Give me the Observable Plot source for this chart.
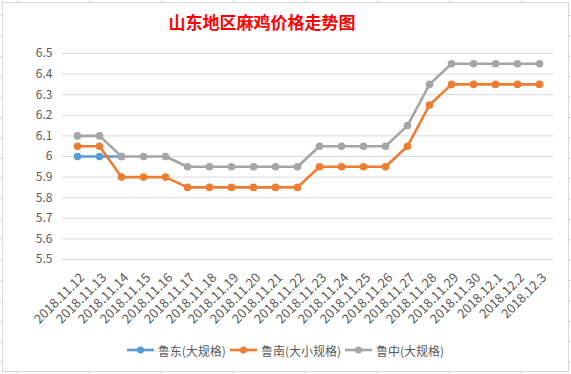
<!DOCTYPE html>
<html>
<head>
<meta charset="utf-8">
<script src="https://cdn.jsdelivr.net/npm/d3@7"></script>
<script src="https://cdn.jsdelivr.net/npm/@observablehq/plot@0.6"></script>
<style>
  html, body { margin: 0; padding: 0; }
  body {
    width: 571px; height: 374px; position: relative; overflow: hidden;
    background-color: #fff;
    background-image:
      linear-gradient(to right, #d4d4d4 1px, transparent 1px),
      linear-gradient(to bottom, #d4d4d4 1px, transparent 1px);
    background-size: 72px 100%, 100% 20.4px;
    background-position: 17px 0, 0 15px;
    font-family: "Noto Sans CJK SC", "Noto Sans", sans-serif;
  }
  #box {
    position: absolute; left: 2px; top: 2px; width: 567px; height: 370px;
    box-sizing: border-box; border: 1px solid #d9d9d9; background: #fff;
  }
  #title {
    height: 37px; line-height: 37px; text-align: center; padding-right: 47px;
    color: #ff0000; font-size: 17px; font-weight: bold;
    font-family: "Noto Sans CJK SC", sans-serif;
  }
  #chart svg { display: block; }
  #legend {
    height: 24px; display: flex; justify-content: center; align-items: center;
    font-size: 12px; color: #595959; gap: 4px;
  }
  .item { display: flex; align-items: center; gap: 4px; }
</style>
</head>
<body>
<div id="box">
  <div id="title">山东地区麻鸡价格走势图</div>
  <div id="chart"></div>
  <div id="legend"></div>
</div>
<script>
const dates = ["2018.11.12","2018.11.13","2018.11.14","2018.11.15","2018.11.16","2018.11.17","2018.11.18","2018.11.19","2018.11.20","2018.11.21","2018.11.22","2018.11.23","2018.11.24","2018.11.25","2018.11.26","2018.11.27","2018.11.28","2018.11.29","2018.11.30","2018.12.1","2018.12.2","2018.12.3"];
const seriesNames = ["鲁东(大规格)", "鲁南(大小规格)", "鲁中(大规格)"];
const seriesColors = ["#5B9BD5", "#ED7D31", "#A5A5A5"];
const ludong = [6.0, 6.0, 6.0, null, null, null, null, null, null, null, null, null, null, null, null, null, null, null, null, null, null, null];
const lunan = [6.05, 6.05, 5.9, 5.9, 5.9, 5.85, 5.85, 5.85, 5.85, 5.85, 5.85, 5.95, 5.95, 5.95, 5.95, 6.05, 6.25, 6.35, 6.35, 6.35, 6.35, 6.35];
const luzhong = [6.1, 6.1, 6.0, 6.0, 6.0, 5.95, 5.95, 5.95, 5.95, 5.95, 5.95, 6.05, 6.05, 6.05, 6.05, 6.15, 6.35, 6.45, 6.45, 6.45, 6.45, 6.45];
const yTicks = [5.5, 5.6, 5.7, 5.8, 5.9, 6.0, 6.1, 6.2, 6.3, 6.4, 6.5];

const allSeries = [ludong, lunan, luzhong];
const rows = allSeries.map((vals, s) =>
  dates.map((d, i) => ({date: d, value: vals[i], series: seriesNames[s]}))
);

const marks = [
  Plot.ruleY(yTicks, {stroke: "#d9d9d9", strokeWidth: 1}),
  Plot.axisY(yTicks, {tickSize: 0, tickPadding: 10, tickFormat: d => String(+d.toFixed(1)), fontSize: 12, fill: "#595959", label: null}),
  Plot.text(dates, {x: d => d, frameAnchor: "bottom", rotate: -45, textAnchor: "end", lineAnchor: "middle", dx: 5, dy: 16, fontSize: 13, fill: "#595959"})
];
rows.forEach((r, s) => {
  marks.push(Plot.line(r, {x: "date", y: "value", stroke: seriesColors[s], strokeWidth: 2.6, curve: "linear"}));
  marks.push(Plot.dot(r.filter(d => d.value != null), {x: "date", y: "value", r: 3.8, fill: seriesColors[s], stroke: "none"}));
});

const plot = Plot.plot({
  width: 565,
  height: 298,
  marginLeft: 59,
  marginRight: 15,
  marginTop: 13,
  marginBottom: 79,
  style: {fontFamily: "'Noto Sans CJK SC', 'Noto Sans', sans-serif", background: "transparent"},
  x: {type: "point", domain: dates, padding: 0.5, axis: null},
  y: {domain: [5.5, 6.5], axis: null},
  marks
});
document.getElementById("chart").appendChild(plot);

const legend = document.getElementById("legend");
seriesNames.forEach((name, s) => {
  const item = document.createElement("div");
  item.className = "item";
  item.innerHTML = `<svg width="27" height="10"><line x1="0" x2="27" y1="5" y2="5" stroke="${seriesColors[s]}" stroke-width="2.6"/><circle cx="13.5" cy="5" r="3.5" fill="${seriesColors[s]}"/></svg><span>${name}</span>`;
  legend.appendChild(item);
});
</script>
</body>
</html>
